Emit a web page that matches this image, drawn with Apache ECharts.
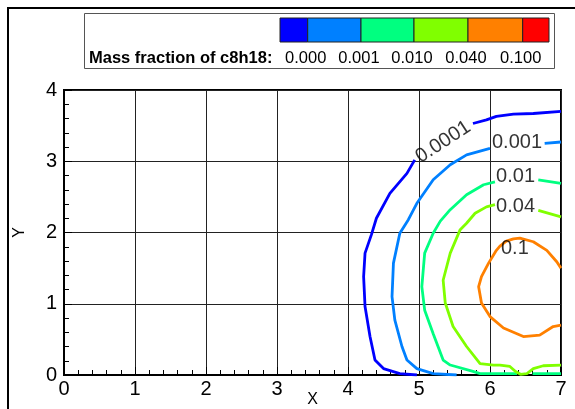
<!DOCTYPE html>
<html><head><meta charset="utf-8">
<script src="https://cdn.jsdelivr.net/npm/echarts@6/dist/echarts.min.js"></script>
<style>html,body{margin:0;padding:0;background:#fff}#c{width:575px;height:409px}</style>
</head><body><div id="c"></div>
<script>
// Contour levels, colors and legend
const levelLabels = ['0.0001', '0.001', '0.01', '0.04', '0.1'];
const levelColors = ['#0000ff', '#0080ff', '#00ff80', '#80ff00', '#ff8000'];
const legendColors = ['#0000ff', '#0080ff', '#00ff80', '#80ff00', '#ff8000', '#ff0000'];
const legendValues = ['0.000', '0.001', '0.010', '0.040', '0.100'];
const legendTitle = 'Mass fraction of c8h18:';
const xTicks = [0, 1, 2, 3, 4, 5, 6, 7];
const yTicks = [0, 1, 2, 3, 4];

// contour segments (data coordinates)
const c0001 = [
  [[5.76,3.53],[5.95,3.58],[6.09,3.63],[6.33,3.66],[6.61,3.67],[7.0,3.70]],
  [[4.94,3.02],[4.83,2.83],[4.59,2.55],[4.40,2.20],[4.33,1.97],[4.24,1.71],[4.22,1.38],[4.24,0.96],[4.31,0.54],[4.38,0.21],[4.50,0.09],[4.73,0.02],[4.97,0.0]]
];
const c001 = [
  [[6.77,3.25],[7.0,3.27]],
  [[6.0,3.18],[5.67,3.09],[5.44,2.95],[5.20,2.74],[4.97,2.41],[4.85,2.18],[4.73,1.99],[4.64,1.57],[4.62,1.10],[4.66,0.77],[4.76,0.40],[4.83,0.21],[4.97,0.09],[5.20,0.02],[5.53,0.0]]
];
const c01 = [
  [[6.68,2.74],[7.0,2.69]],
  [[6.07,2.71],[5.91,2.67],[5.67,2.53],[5.44,2.32],[5.30,2.16],[5.20,1.99],[5.08,1.71],[5.04,1.24],[5.08,0.91],[5.20,0.58],[5.34,0.21],[5.44,0.14],[5.76,0.05],[5.86,0.02],[6.38,0.02]],
  [[6.60,0.02],[7.0,0.02]]
];
const c04 = [
  [[6.68,2.31],[7.0,2.22]],
  [[6.07,2.39],[5.95,2.36],[5.79,2.27],[5.67,2.13],[5.58,2.04],[5.44,1.71],[5.34,1.33],[5.37,1.01],[5.48,0.68],[5.67,0.40],[5.86,0.16],[6.05,0.14],[6.14,0.14],[6.28,0.12],[6.36,0.05],[6.43,0.01],[6.52,0.02],[6.61,0.09],[6.75,0.13],[7.0,0.14]]
];
const c1 = [
  [[7.0,1.50],[6.94,1.59],[6.80,1.75],[6.61,1.87],[6.42,1.92],[6.33,1.91],[6.23,1.88],[6.14,1.81],[6.09,1.75],[5.98,1.57],[5.88,1.38],[5.84,1.24],[5.88,1.01],[6.0,0.82],[6.19,0.66],[6.47,0.54],[6.70,0.56],[6.89,0.68],[7.0,0.70]]
];
const contours = [c0001, c001, c01, c04, c1];
// label anchor positions (data coords) and rotation
const labelPos = [[5.34,3.27],[6.38,3.26],[6.36,2.78],[6.36,2.36],[6.35,1.77]];
const labelRot = [33, 0, 0, 0, 0];

const FONT = '"Liberation Sans", Arial, Helvetica, sans-serif';
const chart = echarts.init(document.getElementById('c'));

const series = [];
contours.forEach((segs, i) => {
  segs.forEach(seg => {
    series.push({
      type: 'line', data: seg, showSymbol: false, symbol: 'none', silent: true,
      lineStyle: { color: levelColors[i], width: 2.8 }, z: 3
    });
  });
});
series.push({
  type: 'scatter', symbolSize: 0, silent: true, z: 5,
  data: labelPos.map((p, i) => ({
    value: p,
    label: { show: true, position: 'inside', formatter: levelLabels[i], rotate: labelRot[i],
      color: '#000', fontSize: 20, fontFamily: FONT }
  }))
});

// legend graphic
const barY = 18, barH = 24;
const bounds = [280, 307.7, 361, 414, 468, 522.7, 549];
const graphic = [
  { type: 'line', shape: { x1: 7, y1: 8, x2: 575, y2: 8 }, style: { stroke: '#000', lineWidth: 2 } },
  { type: 'line', shape: { x1: 8, y1: 7, x2: 8, y2: 409 }, style: { stroke: '#000', lineWidth: 2 } },
  { type: 'rect', shape: { x: 84.5, y: 13.5, width: 470, height: 55 }, style: { fill: '#fff', stroke: '#555', lineWidth: 1 } },
  { type: 'text', x: 89, y: 58, style: { text: legendTitle, font: 'bold 16.5px ' + FONT, fill: '#000', verticalAlign: 'middle' } }
];
legendColors.forEach((c, i) => {
  graphic.push({ type: 'rect', shape: { x: bounds[i], y: barY, width: bounds[i+1] - bounds[i], height: barH },
    style: { fill: c, stroke: '#222', lineWidth: 1 } });
});
legendValues.forEach((v, i) => {
  graphic.push({ type: 'text', x: bounds[i+1] - 2, y: 58,
    style: { text: v, font: '16.5px ' + FONT, fill: '#000', align: 'center', verticalAlign: 'middle' } });
});

chart.setOption({
  animation: false,
  grid: { left: 64, top: 90, width: 497, height: 285, containLabel: false, outerBoundsMode: 'none',
    show: true, borderColor: '#000', borderWidth: 2, backgroundColor: 'transparent' },
  xAxis: {
    type: 'value', min: xTicks[0], max: xTicks[xTicks.length-1], interval: 1,
    name: 'X', nameLocation: 'middle', nameGap: 17, nameMoveOverlap: false,
    nameTextStyle: { fontSize: 16, color: '#000', fontFamily: FONT },
    axisLine: { lineStyle: { color: '#000', width: 2 } },
    axisTick: { inside: true, length: 8, lineStyle: { color: '#000' } },
    minorTick: { show: true, splitNumber: 5, length: 5, lineStyle: { color: '#000' } },
    axisLabel: { fontSize: 20, color: '#000', fontFamily: FONT, margin: 4 },
    splitLine: { show: true, lineStyle: { color: '#222', width: 1 } }
  },
  yAxis: {
    type: 'value', min: yTicks[0], max: yTicks[yTicks.length-1], interval: 1,
    name: 'Y', nameLocation: 'middle', nameGap: 36, nameRotate: 90, nameMoveOverlap: false,
    nameTextStyle: { fontSize: 16, color: '#000', fontFamily: FONT },
    axisLine: { show: true, lineStyle: { color: '#000', width: 2 } },
    axisTick: { show: true, inside: true, length: 8, lineStyle: { color: '#000' } },
    minorTick: { show: true, splitNumber: 5, length: 5, lineStyle: { color: '#000' } },
    axisLabel: { fontSize: 20, color: '#000', fontFamily: FONT, margin: 7 },
    splitLine: { show: true, lineStyle: { color: '#222', width: 1 } }
  },
  graphic: graphic,
  series: series
});
</script></body></html>
